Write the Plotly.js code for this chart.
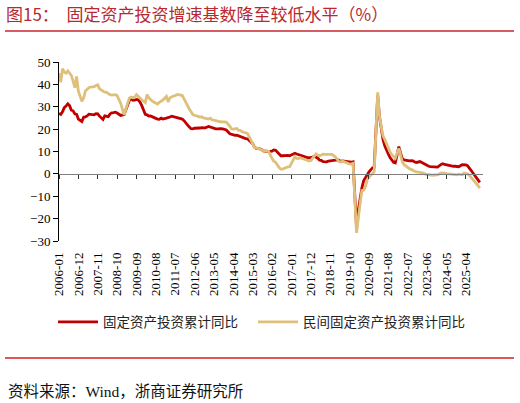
<!DOCTYPE html>
<html>
<head>
<meta charset="utf-8">
<script src="https://cdn.plot.ly/plotly-3.0.1.min.js"></script>
<style>html,body{margin:0;padding:0;background:#fff;}#chart{width:520px;height:403px;}</style>
</head>
<body>
<div id="chart"></div>
<script>
// ---------------- data ----------------
const startYear = 2006;
const endYear = 2025;
const seriesNames = ['固定资产投资累计同比', '民间固定资产投资累计同比'];

// 固定资产投资累计同比 (%), by year, Jan..Dec (null = not published)
const fai2006 = [27.0, 26.6, 27.7, 29.6, 30.3, 31.3, 30.5, 28.5, 28.2, 26.8, 26.6, 24.5];
const fai2007 = [null, 23.4, 25.3, 25.5, 25.9, 26.7, 26.6, 26.7, 26.4, 26.9, 26.8, 25.8];
const fai2008 = [null, 24.3, 25.9, 25.7, 25.6, 26.8, 27.3, 27.4, 27.6, 27.2, 26.8, 26.1];
const fai2009 = [null, 26.5, 28.8, 30.5, 32.9, 33.6, 32.9, 33.0, 33.3, 33.1, 32.1, 30.5];
const fai2010 = [null, 26.6, 26.4, 25.8, 25.9, 25.5, 24.9, 24.8, 24.5, 24.4, 24.9, 24.5];
const fai2011 = [null, 24.9, 25.0, 25.4, 25.8, 25.6, 25.4, 25.0, 24.9, 24.9, 24.5, 23.8];
const fai2012 = [null, 21.5, 20.9, 20.2, 20.1, 20.4, 20.4, 20.2, 20.5, 20.7, 20.7, 20.6];
const fai2013 = [null, 21.2, 20.9, 20.6, 20.4, 20.1, 20.1, 20.3, 20.2, 20.1, 19.9, 19.6];
const fai2014 = [null, 17.9, 17.6, 17.3, 17.2, 17.3, 17.0, 16.5, 16.1, 15.9, 15.8, 15.7];
const fai2015 = [null, 13.9, 13.5, 12.0, 11.4, 11.4, 11.2, 10.9, 10.3, 10.2, 10.2, 10.0];
const fai2016 = [null, 10.2, 10.7, 10.5, 9.6, 9.0, 8.1, 8.1, 8.2, 8.3, 8.3, 8.1];
const fai2017 = [null, 8.9, 9.2, 8.9, 8.6, 8.6, 8.3, 7.8, 7.5, 7.3, 7.2, 7.2];
const fai2018 = [null, 7.9, 7.5, 7.0, 6.1, 6.0, 5.5, 5.3, 5.4, 5.7, 5.9, 5.9];
const fai2019 = [null, 6.1, 6.3, 6.1, 5.6, 5.8, 5.7, 5.5, 5.4, 5.2, 5.2, 5.4];
const fai2020 = [null, -24.5, -16.1, -10.3, -6.3, -3.1, -1.6, -0.3, 0.8, 1.8, 2.6, 2.9];
const fai2021 = [null, 35.0, 25.6, 19.9, 15.4, 12.6, 10.3, 8.9, 7.3, 6.1, 5.2, 4.9];
const fai2022 = [null, 12.2, 9.3, 6.8, 6.2, 6.1, 5.7, 5.8, 5.9, 5.8, 5.3, 5.1];
const fai2023 = [null, 5.5, 5.1, 4.7, 4.0, 3.8, 3.4, 3.2, 3.1, 2.9, 2.9, 3.0];
const fai2024 = [null, 4.2, 4.5, 4.2, 4.0, 3.9, 3.6, 3.4, 3.4, 3.4, 3.3, 3.2];
const fai2025 = [null, 4.1, 4.2, 4.0, 3.7, 2.8, 1.6, 0.5, -0.5, -1.7, -2.6, -3.8];

// 民间固定资产投资累计同比 (%), by year, Jan..Dec
const pri2006 = [45.0, 41.0, 47.0, 45.5, 45.0, 46.0, 45.0, 44.0, 41.5, 38.5, 43.5, 37.0];
const pri2007 = [null, 32.4, 34.0, 37.0, 38.0, 38.5, 38.8, 38.8, 39.0, 39.5, 39.8, 38.0];
const pri2008 = [null, 37.0, 36.5, 36.4, 35.8, 35.4, 35.2, 35.4, 35.4, 35.0, 33.5, 31.6];
const pri2009 = [null, 26.4, 28.5, 31.5, 33.9, 34.3, 34.0, 34.3, 35.4, 34.5, 33.9, 33.1];
const pri2010 = [null, 31.9, 35.4, 34.0, 33.1, 32.5, 32.0, 31.6, 31.2, 32.0, 32.4, 33.0];
const pri2011 = [null, 34.6, 32.2, 34.0, 34.6, 34.8, 35.0, 35.4, 35.4, 35.1, 35.0, 33.5];
const pri2012 = [null, 30.0, 29.0, 27.8, 26.5, 26.2, 25.8, 25.7, 25.4, 25.5, 25.0, 24.8];
const pri2013 = [null, 24.5, 24.9, 24.1, 24.0, 23.7, 23.6, 23.4, 23.3, 23.3, 23.4, 23.1];
const pri2014 = [null, 21.3, 20.1, 20.0, 20.1, 20.3, 19.4, 19.4, 18.8, 18.5, 18.5, 18.1];
const pri2015 = [null, 15.1, 13.7, 11.8, 11.6, 11.4, 11.1, 10.7, 10.4, 10.2, 10.1, 10.1];
const pri2016 = [null, 6.9, 5.7, 5.2, 3.9, 2.8, 2.1, 2.1, 2.5, 2.9, 3.1, 3.2];
const pri2017 = [null, 6.7, 7.7, 6.9, 6.8, 7.2, 6.9, 6.4, 6.0, 5.8, 5.7, 6.0];
const pri2018 = [null, 8.1, 8.9, 8.4, 8.1, 8.4, 8.8, 8.7, 8.7, 8.7, 8.7, 8.7];
const pri2019 = [null, 7.5, 6.4, 5.5, 5.3, 5.7, 5.4, 5.1, 4.7, 4.4, 4.5, 4.7];
const pri2020 = [null, -26.4, -18.8, -13.3, -7.4, -7.3, -5.7, -2.8, -1.5, -0.7, 0.2, 1.0];
const pri2021 = [null, 36.4, 26.0, 21.0, 17.0, 15.4, 13.4, 11.5, 9.8, 8.6, 7.7, 7.0];
const pri2022 = [null, 11.4, 8.4, 5.3, 4.1, 3.5, 2.7, 2.3, 2.0, 1.5, 1.2, 0.9];
const pri2023 = [null, 0.8, 0.6, 0.4, -0.1, -0.2, -0.5, -0.7, -0.6, -0.5, -0.5, -0.4];
const pri2024 = [null, 0.4, 0.5, 0.3, 0.1, 0.1, 0.0, -0.2, -0.2, -0.3, -0.4, -0.1];
const pri2025 = [null, -0.4, 0.4, 0.2, 0.0, -0.6, -1.5, -2.3, -3.1, -4.5, -5.3, -6.4];

const tickLabels = ['2006-01','2006-12','2007-11','2008-10','2009-09','2010-08','2011-07','2012-06',
  '2013-05','2014-04','2015-03','2016-02','2017-01','2017-12','2018-11','2019-10','2020-09',
  '2021-08','2022-07','2023-06','2024-05','2025-04'];

const faiYears = [fai2006,fai2007,fai2008,fai2009,fai2010,fai2011,fai2012,fai2013,fai2014,fai2015,
  fai2016,fai2017,fai2018,fai2019,fai2020,fai2021,fai2022,fai2023,fai2024,fai2025];
const priYears = [pri2006,pri2007,pri2008,pri2009,pri2010,pri2011,pri2012,pri2013,pri2014,pri2015,
  pri2016,pri2017,pri2018,pri2019,pri2020,pri2021,pri2022,pri2023,pri2024,pri2025];

// ---------------- build ----------------
const months = [];
for (let y = startYear; y <= endYear; y++) {
  for (let m = 1; m <= 12; m++) months.push(y + '-' + String(m).padStart(2, '0'));
}
const fai = [].concat(...faiYears);
const pri = [].concat(...priYears);

const W = 520, H = 403;
const M = {l: 59, r: 37, t: 62, b: 162};
const PW = W - M.l - M.r, PH = H - M.t - M.b;
const yMin = -30, yMax = 50;
const px2paperX = p => (p - M.l) / PW;
const px2paperY = p => (H - M.b - p) / PH;

const serif = 'Liberation Serif, "Noto Sans CJK SC", serif';
const cjk = '"Noto Sans CJK SC", sans-serif';

const traces = [
  {x: months, y: fai, type: 'scatter', mode: 'lines', name: seriesNames[0], connectgaps: true,
   line: {color: '#C00000', width: 2.8}, xaxis: 'x', yaxis: 'y', legend: 'legend'},
  {x: months, y: pri, type: 'scatter', mode: 'lines', name: seriesNames[1], connectgaps: true,
   line: {color: '#DFC07A', width: 2.8}, xaxis: 'x2', yaxis: 'y', legend: 'legend2'}
];

const legendBase = {
  orientation: 'h', xref: 'container', yref: 'container',
  xanchor: 'left', y: 1 - 322 / H, yanchor: 'middle',
  font: {family: cjk, size: 13.5, color: '#222'},
  itemwidth: 40, bgcolor: 'rgba(0,0,0,0)'
};

const xRange = [0, 240.8];
const layout = {
  width: W, height: H,
  margin: M,
  paper_bgcolor: '#fff', plot_bgcolor: '#fff',
  showlegend: true,
  title: {
    text: '图15：  固定资产投资增速基数降至较低水平（%）',
    font: {family: cjk, size: 17, color: '#B8282E'},
    x: 6 / W, xanchor: 'left', xref: 'container',
    y: 1 - 15 / H, yanchor: 'middle', yref: 'container'
  },
  xaxis: {
    type: 'category', range: xRange, showline: false, showgrid: false, zeroline: false,
    tickmode: 'array', tickvals: tickLabels, ticktext: tickLabels, tickangle: -90,
    ticks: '', ticklabelstandoff: 8,
    tickfont: {family: serif, size: 13, color: '#000'}
  },
  xaxis2: {
    type: 'category', matches: 'x', overlaying: 'x', anchor: 'free',
    position: (0 - yMin) / (yMax - yMin),
    showline: true, linecolor: '#7f7f7f', linewidth: 1.5, showgrid: false, zeroline: false,
    tickmode: 'array', tickvals: tickLabels, ticks: 'outside', ticklen: 4, tickwidth: 1,
    tickcolor: '#333', showticklabels: false
  },
  yaxis: {
    range: [yMin, yMax], dtick: 10, tick0: 0, showgrid: false, zeroline: false,
    showline: true, linecolor: '#000', linewidth: 1,
    ticks: 'outside', ticklen: 5, tickcolor: '#000', tickwidth: 1,
    tickfont: {family: serif, size: 13, color: '#000'}
  },
  legend: Object.assign({}, legendBase, {x: 53 / W}),
  legend2: Object.assign({}, legendBase, {x: 253 / W}),
  shapes: [
    {type: 'line', xref: 'paper', yref: 'paper', x0: px2paperX(5), x1: px2paperX(514),
     y0: px2paperY(31), y1: px2paperY(31), line: {color: '#C8282E', width: 1.3}},
    {type: 'line', xref: 'paper', yref: 'paper', x0: px2paperX(5), x1: px2paperX(514),
     y0: px2paperY(358), y1: px2paperY(358), line: {color: '#D81E1E', width: 1.3}}
  ],
  annotations: [
    {text: '资料来源：Wind，浙商证券研究所', xref: 'paper', yref: 'paper',
     x: px2paperX(6), xanchor: 'left', y: px2paperY(391), yanchor: 'middle', showarrow: false,
     font: {family: serif, size: 15.5, color: '#111'}}
  ]
};

Plotly.newPlot('chart', traces, layout, {staticPlot: true, displayModeBar: false});
</script>
</body>
</html>
